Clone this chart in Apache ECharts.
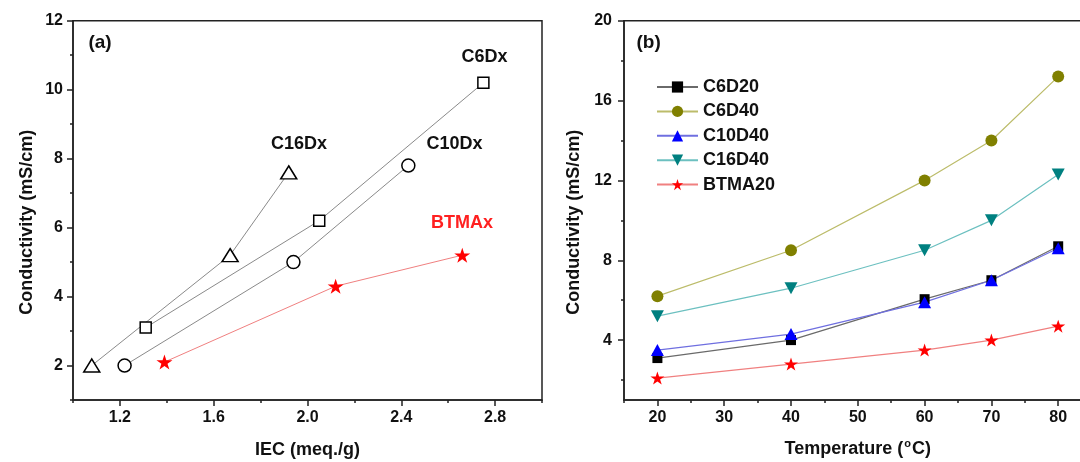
<!DOCTYPE html>
<html>
<head>
<meta charset="utf-8">
<script src="https://cdn.jsdelivr.net/npm/echarts@6/dist/echarts.min.js"></script>
<style>html,body{margin:0;padding:0;background:#fff;}#c{width:1080px;height:462px;}</style>
</head>
<body>
<div id="c"></div>
<script>
// ---------- Panel (a): conductivity vs IEC ----------
const iecC16 = [1.08, 1.67, 1.92];
const condC16 = [2.0, 5.2, 7.6];
const iecC6 = [1.31, 2.05, 2.75];
const condC6 = [3.1, 6.2, 10.2];
const iecC10 = [1.22, 1.94, 2.43];
const condC10 = [2.0, 5.0, 7.8];
const iecBTMA = [1.39, 2.12, 2.66];
const condBTMA = [2.1, 4.3, 5.2];
const iecTicks = [1.2, 1.6, 2.0, 2.4, 2.8];
const iecMinorTicks = [1.0, 1.4, 1.8, 2.2, 2.6, 3.0];
const condTicksA = [2, 4, 6, 8, 10, 12];
const condMinorTicksA = [1, 3, 5, 7, 9, 11];

// ---------- Panel (b): conductivity vs temperature ----------
const temps = [20, 40, 60, 70, 80];
const seriesNamesB = ['C6D20', 'C6D40', 'C10D40', 'C16D40', 'BTMA20'];
const c6d20 = [3.1, 4.0, 6.05, 7.0, 8.7];
const c6d40 = [6.2, 8.5, 12.0, 14.0, 17.2];
const c10d40 = [3.5, 4.3, 5.9, 7.0, 8.6];
const c16d40 = [5.2, 6.6, 8.5, 10.0, 12.3];
const btma20 = [2.1, 2.8, 3.5, 4.0, 4.7];
const tempTicks = [20, 30, 40, 50, 60, 70, 80];
const tempMinorTicks = [15, 25, 35, 45, 55, 65, 75, 85];
const condTicksB = [4, 8, 12, 16, 20];
const condMinorTicksB = [2, 6, 10, 14, 18];

const FONT = 'Liberation Sans, Arial, sans-serif';
const AX = '#222';
const STAR = 'path://M50,0 L61.2,34.5 L97.6,34.5 L68.2,55.9 L79.4,90.5 L50,69.1 L20.6,90.5 L31.8,55.9 L2.4,34.5 L38.8,34.5 Z';
const TRI_DOWN = 'path://M0,0 L10,0 L5,9 Z';

const pairs = (xs, ys) => xs.map((x, i) => [x, ys[i]]);

function mainAxis(grid, min, max, minorVals, extra) {
  return Object.assign({
    gridIndex: grid, type: 'value', min: min, max: max,
    axisLine: {show: true, lineStyle: {color: AX, width: 1.5}},
    axisTick: {show: true, inside: false, length: 3, customValues: minorVals, lineStyle: {color: AX, width: 1.5}},
    axisLabel: {show: false},
    splitLine: {show: false}
  }, extra || {});
}
function majorAxis(grid, min, max, majorVals, fmt, margin, extra) {
  return Object.assign({
    gridIndex: grid, type: 'value', min: min, max: max,
    axisLine: {show: false},
    axisTick: {show: true, inside: false, length: 6, customValues: majorVals, lineStyle: {color: AX, width: 1.5}},
    axisLabel: {show: true, customValues: majorVals, formatter: fmt, margin: margin,
      fontFamily: FONT, fontWeight: 'bold', fontSize: 16, color: '#111'},
    splitLine: {show: false}
  }, extra || {});
}

const hollow = (sym, size) => ({
  type: 'line', xAxisIndex: 0, yAxisIndex: 0, symbol: sym, symbolSize: size,
  lineStyle: {color: '#8a8a8a', width: 1},
  itemStyle: {color: '#fff', borderColor: '#000', borderWidth: 1.5},
  z: 3
});

const lineB = (name, vals, sym, size, mc, lc) => ({
  name: name, type: 'line', xAxisIndex: 2, yAxisIndex: 2,
  data: pairs(temps, vals), symbol: sym, symbolSize: size,
  lineStyle: {color: lc, width: 1.2},
  itemStyle: {color: mc, borderColor: mc, borderWidth: 0},
  z: 3
});

const option = {
  animation: false,
  backgroundColor: '#fff',
  grid: [
    {left: 73, top: 20.7, right: 538, bottom: 62, show: true, borderColor: AX, borderWidth: 1.5,
      backgroundColor: 'transparent', containLabel: false, outerBoundsMode: 'none'},
    {left: 624, top: 20.7, right: -11.6, bottom: 62, show: true, borderColor: AX, borderWidth: 1.5,
      backgroundColor: 'transparent', containLabel: false, outerBoundsMode: 'none'}
  ],
  xAxis: [
    mainAxis(0, 1.0, 3.0, iecMinorTicks.concat(iecTicks), {
      position: 'bottom',
      name: 'IEC (meq./g)', nameLocation: 'middle', nameGap: 41,
      nameTextStyle: {fontFamily: FONT, fontWeight: 'bold', fontSize: 18, color: '#111'}
    }),
    majorAxis(0, 1.0, 3.0, iecTicks, v => v.toFixed(1), 10, {position: 'bottom'}),
    mainAxis(1, 15, 85, tempMinorTicks.concat(tempTicks), {
      position: 'bottom',
      name: 'Temperature ({s|o}C)', nameLocation: 'middle', nameGap: 38,
      nameTextStyle: {fontFamily: FONT, fontWeight: 'bold', fontSize: 18, color: '#111', lineHeight: 22,
        rich: {s: {fontFamily: FONT, fontWeight: 'bold', fontSize: 11, color: '#111', verticalAlign: 'top', lineHeight: 11, padding: [0, 1, 0, 1]}}}
    }),
    majorAxis(1, 15, 85, tempTicks, v => String(v), 10, {position: 'bottom'})
  ],
  yAxis: [
    mainAxis(0, 1, 12, condMinorTicksA.concat(condTicksA), {
      name: 'Conductivity (mS/cm)', nameLocation: 'middle', nameGap: 37, position: 'left',
      nameTextStyle: {fontFamily: FONT, fontWeight: 'bold', fontSize: 18, color: '#111', padding: [0, 24, 0, 0]}
    }),
    majorAxis(0, 1, 12, condTicksA, v => String(v), 10, {position: 'left'}),
    mainAxis(1, 1, 20, condMinorTicksB.concat(condTicksB), {
      name: 'Conductivity (mS/cm)', nameLocation: 'middle', nameGap: 41, position: 'left',
      nameTextStyle: {fontFamily: FONT, fontWeight: 'bold', fontSize: 18, color: '#111', padding: [0, 24, 0, 0]}
    }),
    majorAxis(1, 1, 20, condTicksB, v => String(v), 12, {position: 'left'})
  ],
  legend: {
    data: seriesNamesB,
    orient: 'vertical', left: 651, top: 72,
    itemWidth: 41, itemHeight: 14, itemGap: 4.4,
    textStyle: {fontFamily: FONT, fontWeight: 'bold', fontSize: 18, color: '#111', lineHeight: 20},
    selectedMode: false
  },
  series: [
    Object.assign(hollow('triangle', [16, 13]), {name: 'C16Dx', data: pairs(iecC16, condC16)}),
    Object.assign(hollow('rect', 11), {name: 'C6Dx', data: pairs(iecC6, condC6)}),
    Object.assign(hollow('circle', 13), {name: 'C10Dx', data: pairs(iecC10, condC10)}),
    {name: 'BTMAx', type: 'line', xAxisIndex: 0, yAxisIndex: 0, data: pairs(iecBTMA, condBTMA),
      symbol: STAR, symbolSize: [16, 15], lineStyle: {color: '#f08080', width: 1},
      itemStyle: {color: '#ff0000', borderWidth: 0}, z: 3},
    lineB('C6D20', c6d20, 'rect', 10, '#000000', '#6a6a6a'),
    lineB('C6D40', c6d40, 'circle', 12, '#808000', '#bcbc6a'),
    lineB('C10D40', c10d40, 'triangle', [13, 12], '#0000ff', '#6f6fe0'),
    lineB('C16D40', c16d40, TRI_DOWN, [13, 12], '#008080', '#6cc0c0'),
    lineB('BTMA20', btma20, STAR, [14, 13], '#ff0000', '#f08080')
  ],
  graphic: [
    {type: 'text', x: 100, y: 42.7, style: {text: '(a)', align: 'center', verticalAlign: 'middle', font: 'bold 19px ' + FONT, fill: '#111'}},
    {type: 'text', x: 299, y: 144, style: {text: 'C16Dx', align: 'center', verticalAlign: 'middle', font: 'bold 18px ' + FONT, fill: '#111'}},
    {type: 'text', x: 454.5, y: 144, style: {text: 'C10Dx', align: 'center', verticalAlign: 'middle', font: 'bold 18px ' + FONT, fill: '#111'}},
    {type: 'text', x: 484.5, y: 56.7, style: {text: 'C6Dx', align: 'center', verticalAlign: 'middle', font: 'bold 18px ' + FONT, fill: '#111'}},
    {type: 'text', x: 462, y: 222.7, style: {text: 'BTMAx', align: 'center', verticalAlign: 'middle', font: 'bold 18px ' + FONT, fill: '#ff2020'}},
    {type: 'text', x: 648.6, y: 42.7, style: {text: '(b)', align: 'center', verticalAlign: 'middle', font: 'bold 19px ' + FONT, fill: '#111'}}
  ]
};

const chart = echarts.init(document.getElementById('c'), null, {renderer: 'canvas'});
chart.setOption(option);
</script>
</body>
</html>
